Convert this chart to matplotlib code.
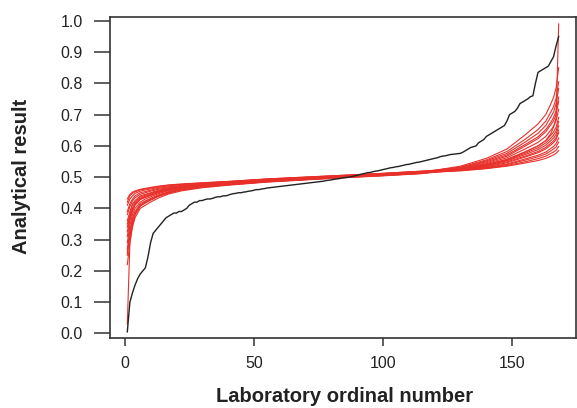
import matplotlib.pyplot as plt
import numpy as np

plt.rcParams['font.family'] = ['Liberation Sans', 'DejaVu Sans']

# observed laboratory results, sorted (black)
lab_results = [
    0.005, 0.10, 0.13, 0.155, 0.175, 0.19, 0.20, 0.21, 0.245, 0.29,
    0.32, 0.33, 0.34, 0.35, 0.36, 0.37, 0.375, 0.38, 0.385, 0.385,
    0.39, 0.39, 0.395, 0.40, 0.41, 0.415, 0.42, 0.42, 0.425, 0.425,
    0.428, 0.43, 0.43, 0.432, 0.435, 0.437, 0.437, 0.44, 0.44, 0.442,
    0.445, 0.447, 0.448, 0.45, 0.45, 0.452, 0.453, 0.455, 0.456, 0.458,
    0.46, 0.46, 0.462, 0.463, 0.465, 0.466, 0.467, 0.468, 0.469, 0.47,
    0.471, 0.472, 0.473, 0.474, 0.475, 0.476, 0.477, 0.478, 0.479, 0.48,
    0.481, 0.482, 0.483, 0.484, 0.485, 0.486, 0.487, 0.489, 0.49, 0.491,
    0.493, 0.494, 0.495, 0.497, 0.498, 0.499, 0.50, 0.502, 0.504, 0.506,
    0.508, 0.51, 0.512, 0.514, 0.515, 0.517, 0.519, 0.52, 0.522, 0.524,
    0.526, 0.528, 0.53, 0.531, 0.533, 0.534, 0.536, 0.538, 0.54, 0.541,
    0.543, 0.545, 0.547, 0.548, 0.55, 0.552, 0.554, 0.556, 0.558, 0.56,
    0.562, 0.565, 0.567, 0.568, 0.57, 0.572, 0.573, 0.574, 0.575, 0.576,
    0.58, 0.585, 0.59, 0.595, 0.597, 0.60, 0.61, 0.615, 0.62, 0.63,
    0.635, 0.64, 0.645, 0.65, 0.655, 0.66, 0.665, 0.68, 0.70, 0.705,
    0.71, 0.72, 0.735, 0.74, 0.745, 0.75, 0.757, 0.76, 0.80, 0.835,
    0.84, 0.845, 0.85, 0.855, 0.87, 0.885, 0.92, 0.95,
]
lab_ordinal = np.arange(1, len(lab_results) + 1)

# simulated sorted results (red), read at these ordinals
sim_ordinal = [1, 2, 3, 4, 6, 8, 10, 13, 17, 22, 30, 40, 55, 70, 85, 100, 115,
               130, 140, 148, 155, 160, 163, 165, 166, 167, 168]
sim_runs = [
    [0.03, 0.29, 0.35, 0.38, 0.41, 0.42, 0.428, 0.44, 0.45, 0.46, 0.469, 0.476, 0.486, 0.493, 0.5, 0.506, 0.513,
     0.526, 0.54, 0.556, 0.58, 0.6, 0.617, 0.64, 0.66, 0.69, 0.99],
    [0.22, 0.29, 0.34, 0.37, 0.40, 0.41, 0.42, 0.433, 0.446, 0.456, 0.466, 0.474, 0.484, 0.491, 0.498, 0.504, 0.511,
     0.528, 0.546, 0.567, 0.599, 0.623, 0.645, 0.668, 0.680, 0.700, 0.743],
    [0.43, 0.445, 0.452, 0.456, 0.461, 0.464, 0.467, 0.471, 0.475, 0.478, 0.482, 0.486, 0.494, 0.500, 0.506, 0.512, 0.519,
     0.522, 0.530, 0.540, 0.554, 0.565, 0.574, 0.584, 0.590, 0.597, 0.612],
    [0.325, 0.368, 0.396, 0.413, 0.43, 0.437, 0.443, 0.452, 0.46, 0.467, 0.474, 0.48, 0.489, 0.495, 0.502, 0.508, 0.515,
     0.535, 0.560, 0.590, 0.635, 0.670, 0.700, 0.735, 0.755, 0.785, 0.850],
    [0.27, 0.33, 0.37, 0.39, 0.415, 0.424, 0.432, 0.443, 0.453, 0.462, 0.47, 0.477, 0.486, 0.493, 0.5, 0.506, 0.513,
     0.524, 0.537, 0.552, 0.572, 0.588, 0.602, 0.617, 0.625, 0.637, 0.664],
    [0.38, 0.406, 0.424, 0.434, 0.445, 0.45, 0.455, 0.461, 0.467, 0.472, 0.478, 0.483, 0.491, 0.498, 0.504, 0.51, 0.517,
     0.527, 0.543, 0.562, 0.590, 0.611, 0.630, 0.651, 0.662, 0.680, 0.717],
    [0.35, 0.38, 0.41, 0.42, 0.436, 0.442, 0.448, 0.456, 0.463, 0.469, 0.476, 0.482, 0.49, 0.497, 0.503, 0.509, 0.516,
     0.523, 0.533, 0.546, 0.564, 0.578, 0.590, 0.603, 0.610, 0.620, 0.642],
    [0.41, 0.43, 0.44, 0.448, 0.455, 0.459, 0.462, 0.467, 0.472, 0.476, 0.48, 0.485, 0.493, 0.499, 0.505, 0.511, 0.518,
     0.531, 0.552, 0.576, 0.612, 0.640, 0.665, 0.693, 0.708, 0.735, 0.783],
    [0.29, 0.345, 0.38, 0.40, 0.42, 0.43, 0.437, 0.447, 0.456, 0.464, 0.472, 0.478, 0.487, 0.494, 0.501, 0.507, 0.514,
     0.520, 0.527, 0.535, 0.545, 0.553, 0.560, 0.567, 0.571, 0.576, 0.585],
    [0.39, 0.415, 0.43, 0.44, 0.45, 0.454, 0.458, 0.464, 0.469, 0.474, 0.479, 0.484, 0.492, 0.498, 0.504, 0.51, 0.517,
     0.526, 0.540, 0.557, 0.581, 0.600, 0.616, 0.634, 0.644, 0.660, 0.691],
    [0.25, 0.31, 0.355, 0.38, 0.407, 0.417, 0.426, 0.438, 0.449, 0.459, 0.468, 0.475, 0.485, 0.492, 0.499, 0.505, 0.512,
     0.522, 0.531, 0.542, 0.558, 0.570, 0.580, 0.592, 0.598, 0.607, 0.625],
    [0.31, 0.36, 0.39, 0.41, 0.428, 0.435, 0.441, 0.45, 0.458, 0.466, 0.473, 0.479, 0.488, 0.495, 0.502, 0.508, 0.515,
     0.532, 0.555, 0.582, 0.621, 0.652, 0.679, 0.709, 0.725, 0.752, 0.805],
    [0.36, 0.39, 0.415, 0.425, 0.44, 0.445, 0.45, 0.458, 0.465, 0.47, 0.477, 0.482, 0.49, 0.497, 0.503, 0.509, 0.516,
     0.521, 0.528, 0.537, 0.549, 0.559, 0.567, 0.576, 0.580, 0.586, 0.598],
    [0.26, 0.32, 0.36, 0.385, 0.41, 0.42, 0.429, 0.44, 0.451, 0.46, 0.469, 0.476, 0.485, 0.492, 0.499, 0.505, 0.512,
     0.529, 0.549, 0.571, 0.604, 0.629, 0.652, 0.676, 0.690, 0.712, 0.756],
    [0.42, 0.44, 0.448, 0.453, 0.459, 0.462, 0.465, 0.469, 0.474, 0.477, 0.481, 0.486, 0.494, 0.5, 0.506, 0.512, 0.519,
     0.525, 0.538, 0.554, 0.576, 0.594, 0.609, 0.625, 0.634, 0.648, 0.678],
    [0.34, 0.375, 0.40, 0.416, 0.432, 0.439, 0.445, 0.454, 0.462, 0.468, 0.475, 0.481, 0.489, 0.496, 0.503, 0.509, 0.516,
     0.524, 0.535, 0.549, 0.567, 0.582, 0.595, 0.609, 0.616, 0.627, 0.651],
]

fig = plt.figure(figsize=(5.77, 4.08), dpi=100)
ax = fig.add_axes([110 / 577, (408 - 337.5) / 408, 466 / 577, (337.5 - 16.7) / 408])

for run in sim_runs:
    ax.plot(sim_ordinal, run, color='#e8302a', lw=0.8)
ax.plot(lab_ordinal, lab_results, color='#222222', lw=1.0)

ax.set_xlim(-5.7, 174.7)
ax.set_ylim(-0.013, 1.013)
ax.set_xticks([0, 50, 100, 150])
ax.set_yticks(np.arange(0, 1.01, 0.1))
ax.set_yticklabels([f'{v:.1f}' for v in np.arange(0, 1.01, 0.1)])

for s in ax.spines.values():
    s.set_color('#333333')
    s.set_linewidth(1.2)
ax.tick_params(direction='out', width=1.1, color='#333333',
               labelsize=11.5, labelcolor='#222222')
ax.tick_params(axis='x', length=6, pad=7.5)
ax.tick_params(axis='y', length=11.5, pad=8)

fig.text(345 / 577, (408 - 402) / 408, 'Laboratory ordinal number',
         fontsize=14.5, fontweight='bold', color='#222222',
         ha='center', va='baseline')
fig.text(22 / 577, 1 - 176 / 408, 'Analytical result', rotation=90,
         fontsize=14.5, fontweight='bold', color='#222222',
         ha='center', va='center')

fig.savefig('out.png', dpi=100)
